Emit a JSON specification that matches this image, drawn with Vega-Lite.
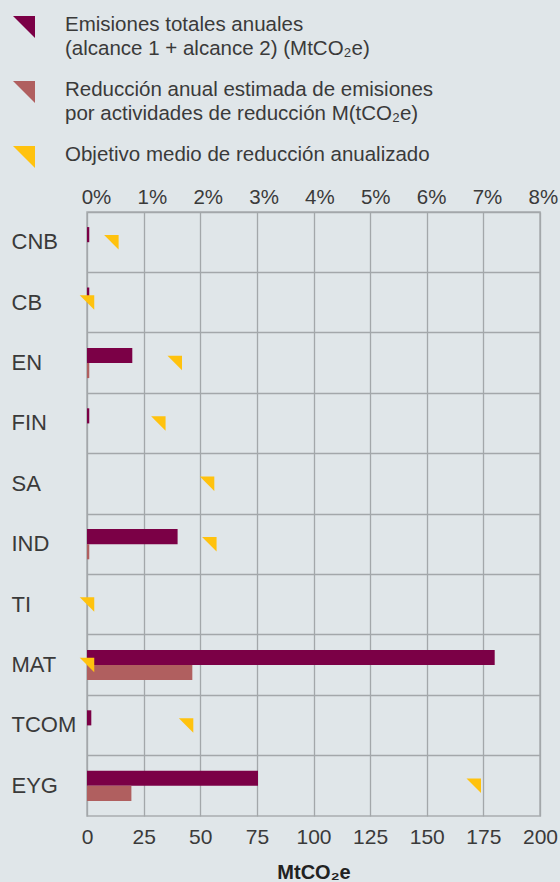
{
  "$schema": "https://vega.github.io/schema/vega-lite/v6.json",
  "width": 453,
  "height": 604,
  "autosize": {"type": "none"},
  "padding": {"left": 87, "top": 212, "right": 20, "bottom": 66},
  "background": "#e0e6e9",
  "config": {
    "font": "Liberation Sans",
    "view": {"stroke": "#a9adb0", "strokeWidth": 1.5},
    "axis": {"labelColor": "#3a3a3a", "titleColor": "#222222", "labelFont": "Liberation Sans", "titleFont": "Liberation Sans"}
  },
  "datasets": {
    "emisiones": [
      {"cat": "CNB", "serie": "tot", "valor": 1.0},
      {"cat": "CB", "serie": "tot", "valor": 1.0},
      {"cat": "EN", "serie": "tot", "valor": 20.0},
      {"cat": "EN", "serie": "red", "valor": 1.0},
      {"cat": "FIN", "serie": "tot", "valor": 1.0},
      {"cat": "IND", "serie": "tot", "valor": 40.0},
      {"cat": "IND", "serie": "red", "valor": 1.0},
      {"cat": "MAT", "serie": "tot", "valor": 180.0},
      {"cat": "MAT", "serie": "red", "valor": 46.5},
      {"cat": "TCOM", "serie": "tot", "valor": 1.9},
      {"cat": "EYG", "serie": "tot", "valor": 75.5},
      {"cat": "EYG", "serie": "red", "valor": 19.6}
    ],
    "objetivo": [
      {"cat": "CNB", "serie": "obj", "pct": 0.43},
      {"cat": "CB", "serie": "obj", "pct": 0.0},
      {"cat": "EN", "serie": "obj", "pct": 1.55},
      {"cat": "FIN", "serie": "obj", "pct": 1.26},
      {"cat": "SA", "serie": "obj", "pct": 2.12},
      {"cat": "IND", "serie": "obj", "pct": 2.16},
      {"cat": "TI", "serie": "obj", "pct": 0.0},
      {"cat": "MAT", "serie": "obj", "pct": 0.0},
      {"cat": "TCOM", "serie": "obj", "pct": 1.75},
      {"cat": "EYG", "serie": "obj", "pct": 6.83}
    ]
  },
  "layer": [
    {
      "data": {"name": "emisiones"},
      "mark": {"type": "bar"},
      "encoding": {
        "y": {
          "field": "cat",
          "type": "nominal",
          "sort": ["CNB", "CB", "EN", "FIN", "SA", "IND", "TI", "MAT", "TCOM", "EYG"],
          "scale": {"domain": ["CNB", "CB", "EN", "FIN", "SA", "IND", "TI", "MAT", "TCOM", "EYG"], "paddingInner": 0, "paddingOuter": 0},
          "axis": {
            "title": null,
            "orient": "left",
            "labelAlign": "left",
            "labelPadding": 76,
            "ticks": false,
            "tickSize": 0,
            "domain": false,
            "labelFontSize": 22,
            "grid": true,
            "bandPosition": 0,
            "gridColor": "#a3a7aa",
            "gridWidth": 1.3
          }
        },
        "yOffset": {
          "field": "serie",
          "type": "nominal",
          "scale": {"domain": ["tot", "red"], "paddingInner": 0, "paddingOuter": 1}
        },
        "x": {
          "field": "valor",
          "type": "quantitative",
          "scale": {"domain": [0, 200], "nice": false},
          "axis": {
            "orient": "bottom",
            "title": "MtCO₂e",
            "titleFontSize": 20,
            "titleFontWeight": "bold",
            "titlePadding": 15,
            "values": [0, 25, 50, 75, 100, 125, 150, 175, 200],
            "labelFontSize": 21,
            "labelPadding": 10,
            "labelFlush": false,
            "labelOverlap": false,
            "ticks": false,
            "tickSize": 0,
            "domain": false,
            "grid": true,
            "gridColor": "#a3a7aa",
            "gridWidth": 1.3
          }
        },
        "color": {
          "field": "serie",
          "type": "nominal",
          "scale": {"domain": ["tot", "red", "obj"], "range": ["#7b0046", "#b05f5f", "#ffc20e"]},
          "legend": {
            "orient": "none",
            "legendX": -74,
            "legendY": -196,
            "direction": "vertical",
            "title": null,
            "symbolType": "M-1,-1L1,-1L1,1Z",
            "symbolSize": 484,
            "symbolStrokeWidth": 0,
            "symbolOpacity": 1,
            "labelFontSize": 20.5,
            "labelColor": "#3a3a3a",
            "labelFont": "Liberation Sans",
            "labelLimit": 0,
            "labelOffset": 30,
            "labelBaseline": "top",
            "rowPadding": 20,
            "labelExpr": "datum.value == 'tot' ? ['Emisiones totales anuales', '(alcance 1 + alcance 2) (MtCO₂e)'] : datum.value == 'red' ? ['Reducción anual estimada de emisiones', 'por actividades de reducción M(tCO₂e)'] : 'Objetivo medio de reducción anualizado'",
            "encode": {"labels": {"update": {"lineHeight": {"value": 24}, "dy": {"value": -12}}}}
          }
        }
      }
    },
    {
      "data": {"name": "objetivo"},
      "mark": {"type": "point", "filled": true, "opacity": 1, "shape": "M-1,-1L1,-1L1,1Z", "size": 210, "strokeWidth": 0},
      "encoding": {
        "y": {"field": "cat", "type": "nominal", "sort": ["CNB", "CB", "EN", "FIN", "SA", "IND", "TI", "MAT", "TCOM", "EYG"]},
        "x": {
          "field": "pct",
          "type": "quantitative",
          "scale": {"domain": [0, 8], "nice": false},
          "axis": {
            "orient": "top",
            "title": null,
            "values": [0, 1, 2, 3, 4, 5, 6, 7, 8],
            "labelExpr": "datum.value + '%'",
            "labelFontSize": 20.5,
            "labelPadding": 5,
            "labelOffset": {"expr": "9 - 0.77 * datum.value"},
            "labelFlush": false,
            "labelOverlap": false,
            "ticks": false,
            "tickSize": 0,
            "domain": false,
            "grid": false
          }
        },
        "color": {"field": "serie", "type": "nominal"}
      }
    }
  ],
  "resolve": {"scale": {"x": "independent"}}
}
